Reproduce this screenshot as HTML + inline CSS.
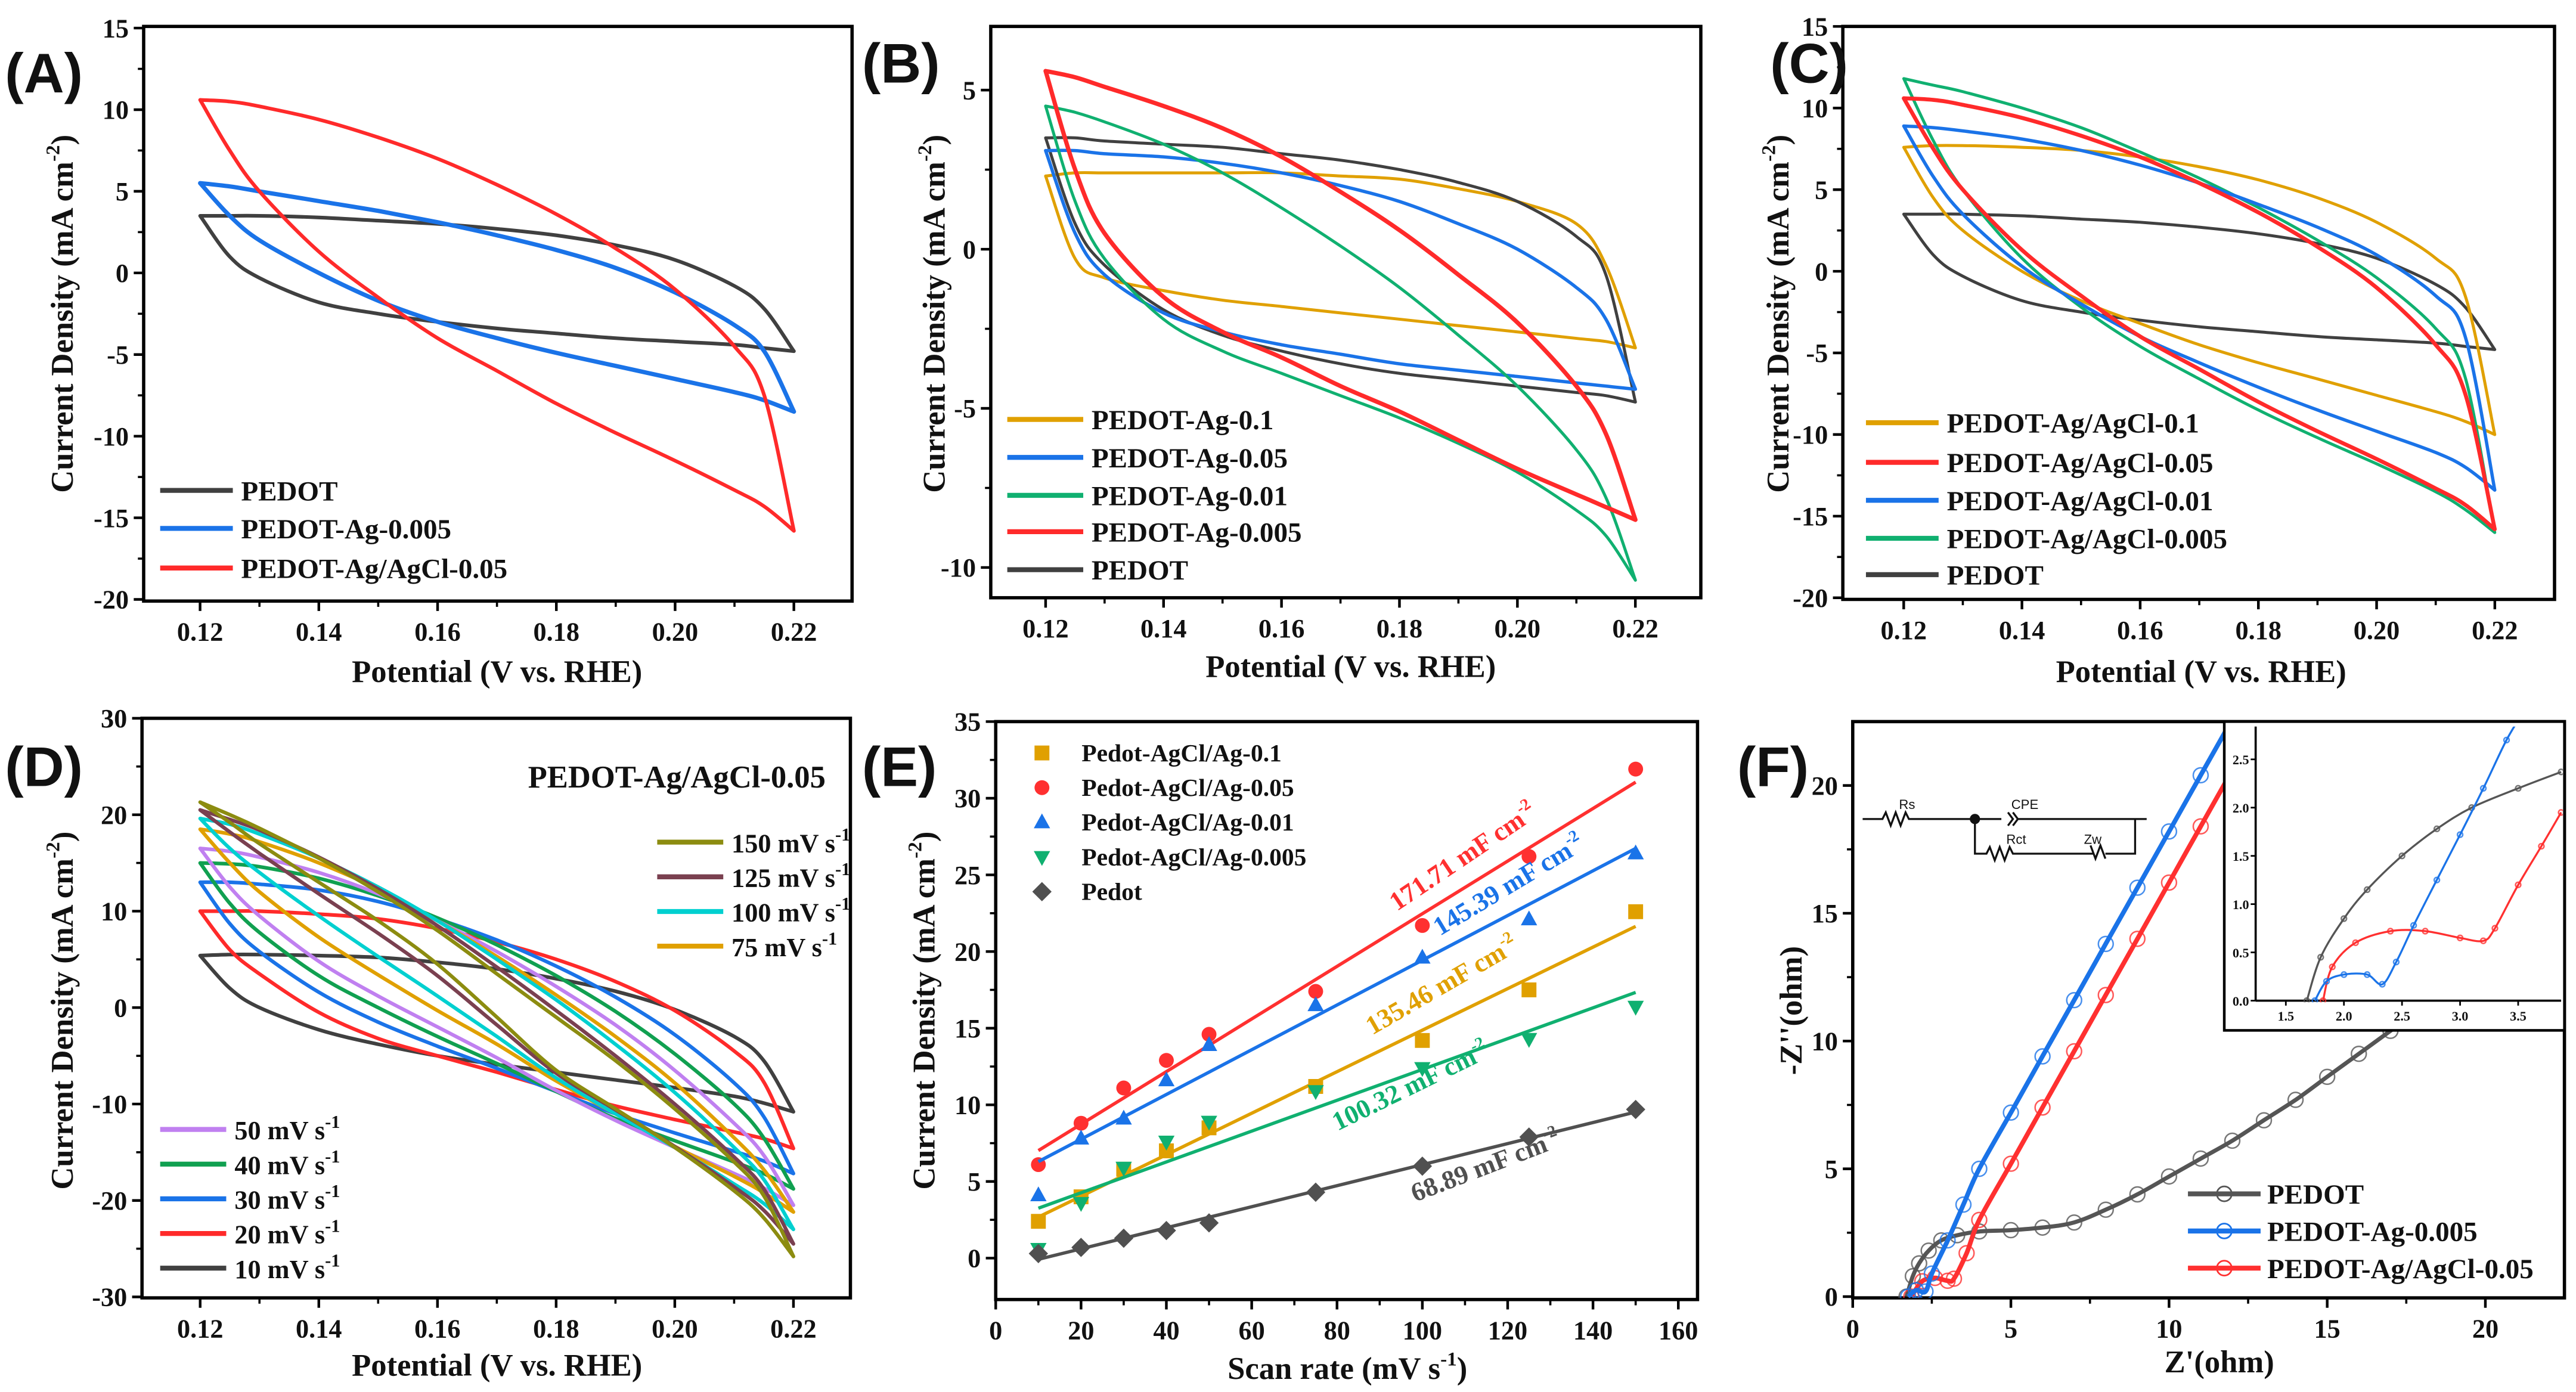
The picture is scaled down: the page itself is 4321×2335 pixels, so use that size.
<!DOCTYPE html>
<html><head><meta charset="utf-8">
<style>
html,body{margin:0;padding:0;background:#fff;}
svg{display:block;}
text{font-family:"Liberation Serif",serif;font-weight:bold;fill:#111;}
.lab{font-family:"Liberation Sans",sans-serif;font-weight:bold;}
</style></head>
<body>
<svg id="fig" xmlns="http://www.w3.org/2000/svg" width="4321" height="2335" viewBox="0 0 1560 843"></svg>
<script>
const NS="http://www.w3.org/2000/svg";
const V=[0.12,0.125,0.13,0.14,0.15,0.16,0.17,0.18,0.19,0.20,0.21,0.215,0.22];
// Panel A
const aPedotUp=[3.5,3.5,3.5,3.4,3.2,3.0,2.7,2.3,1.7,0.8,-0.8,-2.2,-4.8];
const aPedotLo=[3.5,1.0,-0.3,-1.8,-2.5,-3.0,-3.4,-3.7,-4.0,-4.2,-4.4,-4.6,-4.8];
const aAgUp=[5.5,5.3,5.0,4.4,3.8,3.1,2.3,1.4,0.3,-1.2,-3.2,-4.8,-8.5];
const aAgLo=[5.5,3.5,2.0,0,-1.7,-3.0,-4.0,-4.9,-5.7,-6.5,-7.3,-7.8,-8.5];
const aAgClUp=[10.6,10.5,10.2,9.4,8.3,7.0,5.4,3.6,1.5,-1.0,-4.5,-7.5,-15.8];
const aAgClLo=[10.6,7.5,5.0,1.3,-1.5,-4.0,-6.0,-8.0,-9.8,-11.5,-13.3,-14.3,-15.8];
// Panel B
const bAg01Up=[2.3,2.4,2.4,2.4,2.4,2.4,2.3,2.2,1.9,1.5,0.8,-0.5,-3.1];
const bAg01Lo=[2.3,-0.3,-0.9,-1.3,-1.6,-1.8,-2.0,-2.2,-2.4,-2.6,-2.8,-2.9,-3.1];
const bAg005Up=[3.1,3.1,3.0,2.9,2.7,2.4,2.0,1.5,0.8,0,-1.2,-2.2,-4.4];
const bAg005Lo=[3.1,0.5,-0.8,-2.0,-2.6,-3.0,-3.3,-3.6,-3.8,-4.0,-4.2,-4.3,-4.4];
const bAg001Up=[4.5,4.3,4.0,3.3,2.4,1.3,0.1,-1.2,-2.7,-4.3,-6.3,-7.8,-10.4];
const bAg001Lo=[4.5,1.5,-0.3,-2.2,-3.2,-3.9,-4.6,-5.3,-6.1,-7.0,-8.2,-9.0,-10.4];
const bAg0005Up=[5.6,5.4,5.1,4.5,3.8,2.9,1.8,0.6,-0.8,-2.3,-4.3,-5.8,-8.5];
const bAg0005Lo=[5.6,2.5,0.5,-1.5,-2.6,-3.4,-4.3,-5.1,-6.0,-6.9,-7.7,-8.1,-8.5];
const bPedotUp=[3.5,3.5,3.4,3.3,3.2,3.0,2.8,2.5,2.1,1.5,0.4,-0.8,-4.8];
const bPedotLo=[3.5,0.8,-0.5,-1.9,-2.7,-3.2,-3.6,-3.9,-4.1,-4.3,-4.5,-4.6,-4.8];
// Panel C
const cCl01Up=[7.6,7.7,7.7,7.6,7.4,7.0,6.4,5.6,4.5,3.0,0.8,-1.5,-10];
const cCl01Lo=[7.6,4.5,2.5,0,-1.8,-3.2,-4.5,-5.6,-6.6,-7.6,-8.6,-9.2,-10];
const cCl005Up=[10.6,10.5,10.2,9.4,8.3,7.0,5.4,3.6,1.5,-1.0,-4.5,-7.5,-15.8];
const cCl005Lo=[10.6,7.5,5.0,1.3,-1.5,-4.0,-6.0,-8.0,-9.8,-11.5,-13.3,-14.3,-15.8];
const cCl001Up=[8.9,8.8,8.6,8.1,7.4,6.5,5.4,4.1,2.7,1.0,-1.5,-4,-13.4];
const cCl001Lo=[8.9,5.8,3.5,0.3,-2.0,-4.0,-5.6,-7.1,-8.5,-9.8,-11.1,-12,-13.4];
const cCl0005Up=[11.8,11.4,11.0,10.0,8.8,7.3,5.7,3.9,1.9,-0.4,-3.5,-6.5,-16];
const cCl0005Lo=[11.8,8,5,0.8,-2.2,-4.6,-6.6,-8.5,-10.2,-11.8,-13.5,-14.6,-16];
// Panel D (scan rates)
const dUp150=[21.3,20.0,18.6,15.5,12.0,8.0,3.5,-1.0,-5.5,-10.5,-16,-19.5,-25.8];
const dLo150=[21.3,19.2,17.0,13.0,9.0,4.5,-1.0,-6.5,-10.5,-14.5,-19,-21.8,-25.8];
const dUp125=[20.5,19.5,18.4,15.6,12.3,8.5,4.2,-0.3,-5,-10,-15.5,-18.8,-24.5];
const dLo125=[20.5,18.2,16,11.8,7.7,3.3,-1.8,-6.8,-10.6,-14.4,-18.6,-21,-24.5];
const dUp100=[19.6,19,18,15.5,12.5,9,5,0.8,-3.8,-8.8,-14.5,-17.8,-23];
const dLo100=[19.6,16.5,14,9.5,5.3,1.2,-3,-7.3,-11,-14.5,-18.3,-20.3,-23];
const dUp75=[18.5,18,17.2,15,12.3,9,5.3,1.3,-3,-7.8,-13.5,-16.8,-21.2];
const dLo75=[18.5,15,12,7.3,3.4,-0.3,-3.8,-7.6,-11,-14.4,-17.5,-19.2,-21.2];
const dUp50=[16.5,16.2,15.6,14,11.8,9,5.8,2.2,-1.8,-6.5,-12,-15.3,-20.5];
const dLo50=[16.5,12.5,9.5,4.8,1.2,-2,-5.2,-8.6,-11.7,-14.5,-17.2,-18.7,-20.5];
const dUp40=[15,14.9,14.6,13.4,11.6,9.3,6.5,3.3,-0.4,-4.8,-10,-13.5,-18.8];
const dLo40=[15,10.8,7.8,3.3,0,-3,-5.8,-8.7,-11.5,-13.8,-16,-17.2,-18.8];
const dUp30=[13,13,12.8,12.2,11,9.2,7,4.3,1.1,-2.8,-7.8,-11.3,-17.2];
const dLo30=[13,8.7,5.8,1.6,-1.5,-4,-6.3,-8.7,-11,-13,-14.9,-15.9,-17.2];
const dUp20=[10,10,10,9.7,9.2,8.2,6.8,5,2.7,-0.3,-4.5,-7.7,-14.6];
const dLo20=[10,6,3.5,-0.5,-3.2,-5,-6.7,-8.5,-10.2,-11.6,-12.9,-13.6,-14.6];
const dUp10=[5.4,5.5,5.5,5.4,5.2,4.7,4.0,3.0,1.7,-0.2,-3,-5.5,-10.8];
const dLo10=[5.4,2,0,-2.3,-3.8,-5,-5.9,-6.7,-7.5,-8.3,-9.2,-9.9,-10.8];
// Panel E
const eRates=[10,20,30,40,50,75,100,125,150];
const eCl01=[2.4,4.0,5.8,7.0,8.5,11.2,14.2,17.5,22.6];
const eCl005=[6.1,8.8,11.1,12.9,14.6,17.4,21.7,26.2,31.9];
const eCl001=[4.1,7.8,9.1,11.6,13.9,16.5,19.6,22.1,26.4];
const eCl0005=[0.6,3.6,5.9,7.6,8.9,10.9,12.4,14.3,16.4];
const ePedot=[0.3,0.7,1.3,1.8,2.3,4.3,6.0,7.9,9.7];
const eLabels=["171.71 mF cm","145.39 mF cm","135.46 mF cm","100.32 mF cm","68.89 mF cm"];
// Panel F
const fPedotX=[1.7,1.9,2.1,2.4,2.8,3.3,4,5,6,7,8,9,10,11,12,13,14,15,16,17,18,19,20,21,22.5];
const fPedotY=[0,0.8,1.3,1.8,2.2,2.4,2.55,2.6,2.7,2.9,3.4,4.0,4.7,5.4,6.1,6.9,7.7,8.6,9.5,10.4,11.3,12.3,13.2,14.2,15.5];
const fAgX=[1.75,2.0,2.3,2.5,3,3.5,4,5,6,7,8,9,10,11,12];
const fAgY=[0,0.25,0.2,0.9,2.2,3.6,5.0,7.2,9.4,11.6,13.8,16.0,18.2,20.4,22.6];
const fClX=[1.85,2.2,2.6,3.0,3.2,3.6,4,5,6,7,8,9,10,11,12,12.6];
const fClY=[0,0.6,0.73,0.62,0.7,1.7,3.0,5.2,7.4,9.6,11.8,14.0,16.2,18.4,20.6,21.9];
// Inset
const iPedotX=[1.68,1.8,2.0,2.2,2.5,2.8,3.1,3.5,3.87];
const iPedotY=[0,0.45,0.85,1.15,1.5,1.78,2.0,2.2,2.37];
const iAgX=[1.75,1.85,2.0,2.2,2.33,2.45,2.6,2.8,3.0,3.2,3.4,3.55];
const iAgY=[0,0.2,0.27,0.27,0.17,0.4,0.78,1.25,1.72,2.2,2.7,3.0];
const iClX=[1.82,1.9,2.1,2.4,2.7,3.0,3.2,3.3,3.5,3.7,3.87];
const iClY=[0,0.35,0.6,0.72,0.72,0.65,0.62,0.75,1.2,1.6,1.95];

const svg=document.getElementById('fig');
function el(tag,attrs,parent,txt){const e=document.createElementNS(NS,tag);for(const k in attrs)e.setAttribute(k,attrs[k]);if(txt!==undefined)e.textContent=txt;(parent||svg).appendChild(e);return e;}
function axes(name,f,xd,yd){
  const g=el('g',{});
  
  
  const sx=v=>f.x0+(v-xd[0])/(xd[1]-xd[0])*(f.x1-f.x0);
  const sy=v=>f.y1-(v-yd[0])/(yd[1]-yd[0])*(f.y1-f.y0);
  return {g,sx,sy,f};
}
function frame(P,xt,xfmt,yt,yfmt,xminor,yminor){
  const {g,sx,sy,f}=P;
  const r=el('rect',{x:f.x0,y:f.y0,width:f.x1-f.x0,height:f.y1-f.y0,fill:'none',stroke:'#000','stroke-width':2},g);
  
  
  xt.forEach(v=>{const x=sx(v);el('line',{x1:x,x2:x,y1:f.y1,y2:f.y1+6,stroke:'#000','stroke-width':1.6},g);
    const t=el('text',{x:x,y:f.y1+24,'text-anchor':'middle','font-size':16},g,xfmt(v));
    
    });
  (xminor||[]).forEach(v=>{const x=sx(v);el('line',{x1:x,x2:x,y1:f.y1,y2:f.y1+3.5,stroke:'#000','stroke-width':1.3},g);});
  yt.forEach(v=>{const y=sy(v);el('line',{x1:f.x0-6,x2:f.x0,y1:y,y2:y,stroke:'#000','stroke-width':1.6},g);
    const t=el('text',{x:f.x0-9,y:y+5.5,'text-anchor':'end','font-size':16},g,yfmt(v));
    
    });
  (yminor||[]).forEach(v=>{const y=sy(v);el('line',{x1:f.x0-3.5,x2:f.x0,y1:y,y2:y,stroke:'#000','stroke-width':1.3},g);});
}
function smooth(pts){
  let d='';
  for(let i=0;i<pts.length-1;i++){
    const p0=pts[Math.max(0,i-1)],p1=pts[i],p2=pts[i+1],p3=pts[Math.min(pts.length-1,i+2)];
    const c1=[p1[0]+(p2[0]-p0[0])/6,p1[1]+(p2[1]-p0[1])/6];
    const c2=[p2[0]-(p3[0]-p1[0])/6,p2[1]-(p3[1]-p1[1])/6];
    d+=` C${c1[0].toFixed(1)},${c1[1].toFixed(1)} ${c2[0].toFixed(1)},${c2[1].toFixed(1)} ${p2[0].toFixed(1)},${p2[1].toFixed(1)}`;
  }
  return d;
}
function loop(P,xs,up,lo,color,name,w){
  const U=xs.map((x,i)=>[P.sx(x),P.sy(up[i])]);
  const L=xs.map((x,i)=>[P.sx(x),P.sy(lo[i])]).reverse();
  const d=`M${U[0][0].toFixed(1)},${U[0][1].toFixed(1)}`+smooth(U)+smooth(L)+'Z';
  const p=el('path',{d:d,fill:'none',stroke:color,'stroke-width':w||2.2,'stroke-linejoin':'round'},P.g);
  
  
}
function legend(P,x,y,len,color,label,name,w,fs,sup){
  const g=el('g',{},P.g);
  
  
  el('line',{x1:x,x2:x+len,y1:y,y2:y,stroke:color,'stroke-width':w||3},g);
  const t=el('text',{x:x+len+5,y:y+6,'font-size':fs||17},g,label);
  if(sup){el('tspan',{dy:-7,'font-size':11},t,sup);}
}
function ytitle(x,cy,name,main,sup,tail){
  const t=el('text',{x:0,y:0,'text-anchor':'middle','font-size':19,transform:`translate(${x},${cy}) rotate(-90)`},svg,main);
  
  
  if(sup){el('tspan',{dy:-8,'font-size':12},t,sup);el('tspan',{dy:8},t,tail);}
}
function xtitle(cx,y,name,main,sup,tail){
  const t=el('text',{x:cx,y:y,'text-anchor':'middle','font-size':19},svg,main);
  
  
  if(sup){el('tspan',{dy:-8,'font-size':12},t,sup);el('tspan',{dy:8},t,tail);}
}
function plabel(x,y,s,name){const t=el('text',{x:x,y:y,'font-size':34,class:'lab'},svg,s);
  
  }
const potT=[0.12,0.14,0.16,0.18,0.20,0.22], potM=[0.13,0.15,0.17,0.19,0.21];
const f2=v=>v.toFixed(2), f0=v=>String(v);

// ===== A =====
const A=axes('panel-a',{x0:87,x1:516,y0:16,y1:364},[0.1105,0.2298],[-20.1,15.1]);
frame(A,potT,f2,[-20,-15,-10,-5,0,5,10,15],f0,potM,[-17.5,-12.5,-7.5,-2.5,2.5,7.5,12.5]);
loop(A,V,aPedotUp,aPedotLo,'#404040','cv-pedot');
loop(A,V,aAgUp,aAgLo,'#1a73e8','cv-pedot-ag-0005',2.6);
loop(A,V,aAgClUp,aAgClLo,'#ff2a2a','cv-pedot-agcl-005');
legend(A,97,297,44,'#404040','PEDOT','legend-pedot');
legend(A,97,320,44,'#1a73e8','PEDOT-Ag-0.005','legend-pedot-ag-0005');
legend(A,97,344,44,'#ff2a2a','PEDOT-Ag/AgCl-0.05','legend-pedot-agcl-005');
plabel(3,56,'(A)','panel-label-a');
ytitle(44,190,'y-axis-title-a','Current Density (mA cm','-2',')');
xtitle(301,413,'x-axis-title-a','Potential (V vs. RHE)');

// ===== B =====
const B=axes('panel-b',{x0:600,x1:1030,y0:16,y1:362},[0.1107,0.2311],[-10.95,7.0]);
frame(B,potT,f2,[-10,-5,0,5],f0,potM,[-7.5,-2.5,2.5]);
loop(B,V,bAg01Up,bAg01Lo,'#e0a000','cv-b-ag-01',1.8);
loop(B,V,bPedotUp,bPedotLo,'#404040','cv-b-pedot',1.8);
loop(B,V,bAg005Up,bAg005Lo,'#1a73e8','cv-b-ag-005',2);
loop(B,V,bAg001Up,bAg001Lo,'#10b070','cv-b-ag-001',1.8);
loop(B,V,bAg0005Up,bAg0005Lo,'#ff2a2a','cv-b-ag-0005',2.6);
legend(B,610,254,46,'#e0a000','PEDOT-Ag-0.1','legend-b-ag-01');
legend(B,610,277,46,'#1a73e8','PEDOT-Ag-0.05','legend-b-ag-005');
legend(B,610,300,46,'#10b070','PEDOT-Ag-0.01','legend-b-ag-001');
legend(B,610,322,46,'#ff2a2a','PEDOT-Ag-0.005','legend-b-ag-0005');
legend(B,610,345,46,'#404040','PEDOT','legend-b-pedot');
plabel(522,50,'(B)','panel-label-b');
ytitle(572,190,'y-axis-title-b','Current Density (mA cm','-2',')');
xtitle(818,410,'x-axis-title-b','Potential (V vs. RHE)');

// ===== C =====
const C=axes('panel-c',{x0:1116,x1:1547,y0:16,y1:363},[0.1097,0.2301],[-20.1,15.0]);
frame(C,potT,f2,[-20,-15,-10,-5,0,5,10,15],f0,potM,[-17.5,-12.5,-7.5,-2.5,2.5,7.5,12.5]);
loop(C,V,aPedotUp,aPedotLo,'#404040','cv-c-pedot',1.8);
loop(C,V,cCl01Up,cCl01Lo,'#e0a000','cv-c-agcl-01',1.8);
loop(C,V,cCl0005Up,cCl0005Lo,'#10b070','cv-c-agcl-0005',1.8);
loop(C,V,cCl001Up,cCl001Lo,'#1a73e8','cv-c-agcl-001',2);
loop(C,V,cCl005Up,cCl005Lo,'#ff2a2a','cv-c-agcl-005',2.4);
legend(C,1130,256,44,'#e0a000','PEDOT-Ag/AgCl-0.1','legend-c-agcl-01');
legend(C,1130,280,44,'#ff2a2a','PEDOT-Ag/AgCl-0.05','legend-c-agcl-005');
legend(C,1130,303,44,'#1a73e8','PEDOT-Ag/AgCl-0.01','legend-c-agcl-001');
legend(C,1130,326,44,'#10b070','PEDOT-Ag/AgCl-0.005','legend-c-agcl-0005');
legend(C,1130,348,44,'#404040','PEDOT','legend-c-pedot');
plabel(1072,50,'(C)','panel-label-c');
ytitle(1083,190,'y-axis-title-c','Current Density (mA cm','-2',')');
xtitle(1333,413,'x-axis-title-c','Potential (V vs. RHE)');

// ===== D =====
const D=axes('panel-d',{x0:86,x1:515,y0:435,y1:786},[0.1102,0.2296],[-30.1,30.0]);
frame(D,potT,f2,[-30,-20,-10,0,10,20,30],f0,potM,[-25,-15,-5,5,15,25]);
loop(D,V,dUp10,dLo10,'#404040','cv-d-10');
loop(D,V,dUp20,dLo20,'#ff2a2a','cv-d-20');
loop(D,V,dUp30,dLo30,'#1a73e8','cv-d-30');
loop(D,V,dUp40,dLo40,'#10a050','cv-d-40');
loop(D,V,dUp50,dLo50,'#c080f0','cv-d-50');
loop(D,V,dUp75,dLo75,'#e0a000','cv-d-75');
loop(D,V,dUp100,dLo100,'#00d0d0','cv-d-100');
loop(D,V,dUp125,dLo125,'#7a4050','cv-d-125');
loop(D,V,dUp150,dLo150,'#8c8c10','cv-d-150');
const dt=el('text',{x:500,y:477,'text-anchor':'end','font-size':19},svg,'PEDOT-Ag/AgCl-0.05');


legend(D,398,510,40,'#8c8c10','150 mV s','legend-d-150',3,16,'-1');
legend(D,398,531,40,'#7a4050','125 mV s','legend-d-125',3,16,'-1');
legend(D,398,552,40,'#00d0d0','100 mV s','legend-d-100',3,16,'-1');
legend(D,398,573,40,'#e0a000','75 mV s','legend-d-75',3,16,'-1');
legend(D,97,684,40,'#c080f0','50 mV s','legend-d-50',3,16,'-1');
legend(D,97,705,40,'#10a050','40 mV s','legend-d-40',3,16,'-1');
legend(D,97,726,40,'#1a73e8','30 mV s','legend-d-30',3,16,'-1');
legend(D,97,747,40,'#ff2a2a','20 mV s','legend-d-20',3,16,'-1');
legend(D,97,768,40,'#404040','10 mV s','legend-d-10',3,16,'-1');
plabel(3,476,'(D)','panel-label-d');
ytitle(44,612,'y-axis-title-d','Current Density (mA cm','-2',')');
xtitle(301,833,'x-axis-title-d','Potential (V vs. RHE)');

// ===== E =====
const E=axes('panel-e',{x0:603,x1:1028,y0:437,y1:787},[0,164.5],[-2.7,35]);
frame(E,[0,20,40,60,80,100,120,140,160],f0,[0,5,10,15,20,25,30,35],f0,[10,30,50,70,90,110,130,150],[2.5,7.5,12.5,17.5,22.5,27.5,32.5]);
function fit(xs,ys){const n=xs.length;let mx=0,my=0;for(let i=0;i<n;i++){mx+=xs[i];my+=ys[i];}mx/=n;my/=n;let a=0,b=0;for(let i=0;i<n;i++){a+=(xs[i]-mx)*(ys[i]-my);b+=(xs[i]-mx)**2;}const s=a/b;return [s,my-s*mx];}
const eSeries=[[eCl01,'#e0a000','square','agcl-01'],[eCl005,'#ff3030','circle','agcl-005'],[eCl001,'#1a73e8','up','agcl-001'],[eCl0005,'#10b070','down','agcl-0005'],[ePedot,'#505050','diamond','pedot']];
function marker(g,sh,x,y,c,r){
  if(sh==='square')return el('rect',{x:x-r,y:y-r,width:2*r,height:2*r,fill:c},g);
  if(sh==='circle')return el('circle',{cx:x,cy:y,r:r,fill:c},g);
  if(sh==='up')return el('polygon',{points:`${x},${y-r*1.2} ${x-r*1.1},${y+r*0.8} ${x+r*1.1},${y+r*0.8}`,fill:c},g);
  if(sh==='down')return el('polygon',{points:`${x},${y+r*1.2} ${x-r*1.1},${y-r*0.8} ${x+r*1.1},${y-r*0.8}`,fill:c},g);
  return el('polygon',{points:`${x},${y-r*1.3} ${x+r*1.3},${y} ${x},${y+r*1.3} ${x-r*1.3},${y}`,fill:c},g);
}
eSeries.forEach(([ys,c,sh,nm])=>{
  const [s,b]=fit(eRates,ys);
  const ln=el('line',{x1:E.sx(10),y1:E.sy(s*10+b),x2:E.sx(150),y2:E.sy(s*150+b),stroke:c,'stroke-width':2},E.g);
  
  
  ys.forEach((v,i)=>{const m=marker(E.g,sh,E.sx(eRates[i]),E.sy(v),c,4.5);
    
    });
});
function eAnno(x,y,ang,c,s,name){const t=el('text',{x:0,y:0,'font-size':16,transform:`translate(${x},${y}) rotate(${ang})`,style:'fill:'+c},svg,s);
  el('tspan',{dy:-7,'font-size':10},t,'-2');
  
  }
eAnno(846,552,-34,'#ff3030',eLabels[0],'slope-label-agcl-005');
eAnno(872,567,-31,'#1a73e8',eLabels[1],'slope-label-agcl-001');
eAnno(831,627,-30,'#e0a000',eLabels[2],'slope-label-agcl-01');
eAnno(810,685,-26,'#10b070',eLabels[3],'slope-label-agcl-0005');
eAnno(857,728,-21,'#505050',eLabels[4],'slope-label-pedot');
const eLeg=[['Pedot-AgCl/Ag-0.1','#e0a000','square'],['Pedot-AgCl/Ag-0.05','#ff3030','circle'],['Pedot-AgCl/Ag-0.01','#1a73e8','up'],['Pedot-AgCl/Ag-0.005','#10b070','down'],['Pedot','#505050','diamond']];
eLeg.forEach(([s,c,sh],i)=>{const g=el('g',{},E.g);
  
  
  marker(g,sh,631,456+i*21,c,4.5);el('text',{x:655,y:461+i*21,'font-size':15},g,s);});
plabel(522,476,'(E)','panel-label-e');
ytitle(566,612,'y-axis-title-e','Current Density (mA cm','-2',')');
xtitle(816,835,'x-axis-title-e','Scan rate (mV s','-1',')');

// ===== F =====
const F=axes('panel-f',{x0:1122,x1:1553,y0:437,y1:786},[0,22.5],[-0.05,22.5]);
frame(F,[0,5,10,15,20],f0,[0,5,10,15,20],f0,[2.5,7.5,12.5,17.5],[2.5,7.5,12.5,17.5]);
const clipF=el('clipPath',{id:'clipF'});el('rect',{x:1122,y:437,width:431,height:349},clipF);
function nyq(P,xs,ys,c,name,w,r,clip){
  const g=el('g',clip?{'clip-path':clip}:{},P.g);
  
  
  const pts=xs.map((x,i)=>[P.sx(x),P.sy(ys[i])]);
  el('path',{d:`M${pts[0][0].toFixed(1)},${pts[0][1].toFixed(1)}`+smooth(pts),fill:'none',stroke:c,'stroke-width':w},g);
  xs.forEach((x,i)=>el('circle',{cx:P.sx(x),cy:P.sy(ys[i]),r:r,fill:'none',stroke:c,'stroke-width':0.9,opacity:0.8},g));
}
nyq(F,fPedotX,fPedotY,'#555555','nyquist-pedot',2.5,4.5,'url(#clipF)');
nyq(F,fClX,fClY,'#ff3030','nyquist-pedot-agcl-005',2.8,4.5,'url(#clipF)');
nyq(F,fAgX,fAgY,'#1a73e8','nyquist-pedot-ag-0005',2.8,4.5,'url(#clipF)');
// circuit
const cg=el('g',{stroke:'#111','stroke-width':1.2,fill:'none'},svg);


el('path',{d:'M1128,496 H1140 l2,-4 l3,8 l3,-8 l3,8 l3,-8 l2,4 H1196 H1212 M1216,492 l3,4 l-3,4 M1219,492 l3,4 l-3,4 M1222,496 H1300 M1196,496 V517 H1203 l2,-4 l3,8 l3,-8 l3,8 l3,-8 l2,4 H1256 M1256,517 H1268 M1266,512 l3,8 l3,-8 l3,8 M1275,517 H1293 V496'},cg);
el('circle',{cx:1196,cy:496,r:2.5,fill:'#111'},cg);
[['Rs',1150,490],['CPE',1218,490],['Rct',1215,511],['Zw',1262,511]].forEach(([s,x,y])=>{const t=el('text',{x:x,y:y,'font-size':8,class:'lab',style:'font-weight:normal'},svg,s);
  
  });
// inset
const ib=el('rect',{x:1347,y:437,width:206,height:187,fill:'#fff',stroke:'#000','stroke-width':1.6},svg);


const I=axes('inset',{x0:1366,x1:1551,y0:440,y1:606},[1.24,3.87],[0,2.84]);
el('line',{x1:1366,x2:1366,y1:440,y2:606,stroke:'#000','stroke-width':1.3},I.g);
el('line',{x1:1366,x2:1551,y1:606,y2:606,stroke:'#000','stroke-width':1.3},I.g);
[1.5,2.0,2.5,3.0,3.5].forEach(v=>{const x=I.sx(v);el('line',{x1:x,x2:x,y1:606,y2:609,stroke:'#000'},I.g);const t=el('text',{x:x,y:618,'text-anchor':'middle','font-size':8},I.g,v.toFixed(1));
  
  });
[0,0.5,1.0,1.5,2.0,2.5].forEach(v=>{const y=I.sy(v);el('line',{x1:1363,x2:1366,y1:y,y2:y,stroke:'#000'},I.g);const t=el('text',{x:1362,y:y+3,'text-anchor':'end','font-size':8},I.g,v.toFixed(1));
  
  });
const clipI=el('clipPath',{id:'clipI'});el('rect',{x:1366,y:440,width:186,height:167},clipI);
nyq(I,iPedotX,iPedotY,'#555555','inset-pedot',1.2,1.6,'url(#clipI)');
nyq(I,iClX,iClY,'#ff3030','inset-pedot-agcl-005',1.2,1.6,'url(#clipI)');
nyq(I,iAgX,iAgY,'#1a73e8','inset-pedot-ag-0005',1.2,1.6,'url(#clipI)');
[['PEDOT','#555555'],['PEDOT-Ag-0.005','#1a73e8'],['PEDOT-Ag/AgCl-0.05','#ff3030']].forEach(([s,c],i)=>{
  const g=el('g',{},F.g);
  
  
  const y=723+i*22.5;
  el('line',{x1:1325,x2:1369,y1:y,y2:y,stroke:c,'stroke-width':3},g);
  el('circle',{cx:1347,cy:y,r:4.5,fill:'none',stroke:c,'stroke-width':1},g);
  el('text',{x:1373,y:y+6,'font-size':17},g,s);
});
plabel(1052,476,'(F)','panel-label-f');
ytitle(1091,612,'y-axis-title-f',"-Z''(ohm)");
xtitle(1344,831,'x-axis-title-f',"Z'(ohm)");
</script>
</body></html>
